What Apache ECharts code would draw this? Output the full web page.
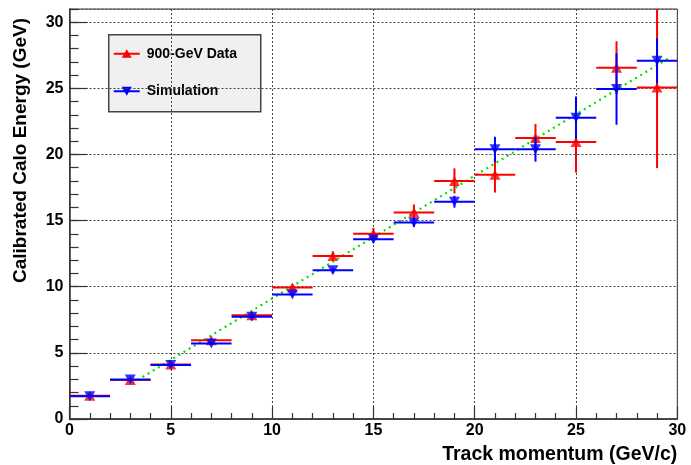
<!DOCTYPE html>
<html>
<head>
<meta charset="utf-8">
<script src="https://cdn.jsdelivr.net/npm/echarts@6/dist/echarts.min.js"></script>
<style>
html,body{margin:0;padding:0;background:#fff;}
#chart{width:691px;height:465px;}
</style>
</head>
<body>
<div id="chart"></div>
<script>
// ---- data ----
const binCenters = [1, 3, 5, 7, 9, 11, 13, 15, 17, 19, 21, 23, 25, 27, 29];
const binHalfWidth = [1, 1, 1, 1, 1, 1, 1, 1, 1, 1, 1, 1, 1, 1, 1];
const dataY   = [1.75, 2.95, 4.13, 5.96, 7.85, 9.94, 12.33, 14.0, 15.62, 18.0, 18.47, 21.25, 20.94, 26.56, 25.07];
const dataErr = [0.1, 0.1, 0.12, 0.15, 0.2, 0.25, 0.35, 0.45, 0.6, 0.95, 1.35, 1.05, 2.3, 2.0, 6.1];
const simY    = [1.72, 2.98, 4.08, 5.71, 7.73, 9.42, 11.24, 13.6, 14.86, 16.43, 20.39, 20.39, 22.78, 24.95, 27.08];
const simErr  = [0.05, 0.07, 0.08, 0.1, 0.12, 0.15, 0.2, 0.25, 0.35, 0.45, 0.95, 0.93, 1.6, 2.7, 1.7];
const fitX = [3.1, 29.7];
const fitY = [2.7, 27.4];
const seriesNames = ['900-GeV Data', 'Simulation'];
const xTitle = 'Track momentum (GeV/c)';
const yTitle = 'Calibrated Calo Energy (GeV)';

const FONT = '"Liberation Sans", Arial, Helvetica, sans-serif';
const RED = '#ff0000', BLUE = '#0000ff';

function rows(ys, errs) {
  return binCenters.map((x, i) => [x, ys[i], binHalfWidth[i], errs[i]]);
}

function errRender(color) {
  return function (params, api) {
    const x = api.value(0), y = api.value(1), xe = api.value(2), ye = api.value(3);
    const pL = api.coord([x - xe, y]);
    const pR = api.coord([x + xe, y]);
    const pT = api.coord([x, y + ye]);
    const pB = api.coord([x, y - ye]);
    const st = { stroke: color, lineWidth: 2 };
    return {
      type: 'group',
      children: [
        { type: 'line', shape: { x1: pL[0], y1: pL[1], x2: pR[0], y2: pR[1] }, style: st },
        { type: 'line', shape: { x1: pT[0], y1: pT[1], x2: pB[0], y2: pB[1] }, style: st }
      ]
    };
  };
}

const chart = echarts.init(document.getElementById('chart'), null, { renderer: 'canvas' });

const tickColor = '#333';
const option = {
  backgroundColor: '#fff',
  animation: false,
  grid: { left: 69.5, right: 13.7, top: 9, bottom: 45.7, show: true, borderColor: '#333', borderWidth: 1, containLabel: false },
  xAxis: {
    type: 'value', min: 0, max: 30, interval: 5,
    name: xTitle, nameLocation: 'end', nameGap: 0,
    nameTextStyle: { fontFamily: FONT, fontWeight: 'bold', fontSize: 19.5, color: '#000', align: 'right', verticalAlign: 'top', padding: [26, 0, 0, 0] },
    axisLine: { show: true, lineStyle: { color: tickColor, width: 1.5 } },
    axisTick: { show: true, inside: true, length: 12, lineStyle: { color: tickColor, width: 1.2 } },
    minorTick: { show: true, splitNumber: 5, length: 6, lineStyle: { color: tickColor, width: 1.2 } },
    axisLabel: { fontFamily: FONT, fontWeight: 'bold', fontSize: 16, color: '#000', margin: 4 },
    splitLine: { show: true, lineStyle: { color: '#444', type: [2, 2], width: 1 } }
  },
  yAxis: [
    {
      type: 'value', min: 0, max: 31, interval: 5,
      name: yTitle, nameLocation: 'end', nameGap: -9, nameRotate: 90,
      nameTextStyle: { fontFamily: FONT, fontWeight: 'bold', fontSize: 19, color: '#000', align: 'right', verticalAlign: 'bottom', padding: [0, 0, 39, 0] },
      axisLine: { show: true, lineStyle: { color: tickColor, width: 1.5 } },
      axisTick: { show: true, inside: true, length: 18, lineStyle: { color: tickColor, width: 1.2 } },
      axisLabel: { fontFamily: FONT, fontWeight: 'bold', fontSize: 16, color: '#000', margin: 6, showMaxLabel: false },
      splitLine: { show: true, lineStyle: { color: '#444', type: [2, 2], width: 1 } }
    },
    {
      type: 'value', min: 0, max: 31, interval: 1, position: 'left', offset: 0,
      axisLine: { show: false },
      axisTick: { show: true, inside: true, length: 9, lineStyle: { color: tickColor, width: 1.2 } },
      axisLabel: { show: false },
      splitLine: { show: false }
    }
  ],
  series: [
    {
      name: 'fit', type: 'line', data: fitX.map((x, i) => [x, fitY[i]]),
      symbol: 'none', lineStyle: { color: '#00e000', width: 2.2, type: [2, 4] }, z: 1
    },
    { name: seriesNames[0] + ' errors', type: 'custom', data: rows(dataY, dataErr), renderItem: errRender(RED), clip: true, z: 2 },
    { name: seriesNames[0], type: 'scatter', data: rows(dataY, dataErr).map(r => [r[0], r[1]]), symbol: 'triangle', symbolSize: [11, 10], itemStyle: { color: RED }, clip: true, z: 3 },
    { name: seriesNames[1] + ' errors', type: 'custom', data: rows(simY, simErr), renderItem: errRender(BLUE), clip: true, z: 4 },
    { name: seriesNames[1], type: 'scatter', data: rows(simY, simErr).map(r => [r[0], r[1]]), symbol: 'triangle', symbolRotate: 180, symbolSize: [11, 10], itemStyle: { color: BLUE }, clip: true, z: 5 }
  ],
  graphic: [
    {
      type: 'group', left: 108, top: 34, z: 100,
      children: [
        { type: 'rect', shape: { x: 0, y: 0, width: 152, height: 77 }, style: { fill: '#f0f0f0', stroke: '#444', lineWidth: 1.5 } },
        { type: 'line', shape: { x1: 5, y1: 19, x2: 31, y2: 19 }, style: { stroke: RED, lineWidth: 2 } },
        { type: 'polygon', shape: { points: [[18, 14.5], [23, 23], [13, 23]] }, style: { fill: RED } },
        { type: 'text', x: 38, y: 19, style: { text: seriesNames[0], fontFamily: FONT, fontWeight: 'bold', fontSize: 14, fill: '#000', verticalAlign: 'middle' } },
        { type: 'line', shape: { x1: 5, y1: 56.5, x2: 31, y2: 56.5 }, style: { stroke: BLUE, lineWidth: 2 } },
        { type: 'polygon', shape: { points: [[13, 52], [23, 52], [18, 61]] }, style: { fill: BLUE } },
        { type: 'text', x: 38, y: 56.5, style: { text: seriesNames[1], fontFamily: FONT, fontWeight: 'bold', fontSize: 14, fill: '#000', verticalAlign: 'middle' } }
      ]
    }
  ]
};
chart.setOption(option);
</script>
</body>
</html>
